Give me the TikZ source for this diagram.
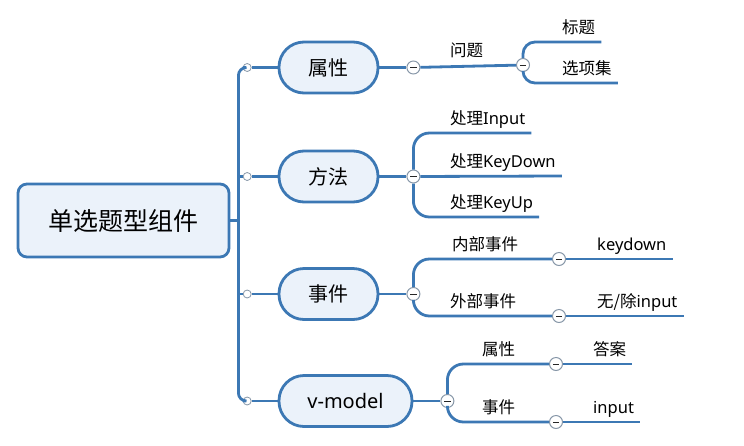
\documentclass[tikz,border=0pt]{standalone}
\usepackage{fontspec}
\newfontfamily\cjk{Noto Sans CJK SC}
\newfontfamily\latin{Noto Sans}
\usepackage{tikz}
\usetikzlibrary{positioning}
\definecolor{branchblue}{HTML}{3C78B4}
\definecolor{topicfill}{HTML}{EBF2FA}
\definecolor{knobgray}{HTML}{8797A8}
\tikzset{
  root/.style={draw=branchblue, line width=2.8pt, fill=topicfill, rounded corners=9pt,
    minimum width=211pt, minimum height=73pt, font=\cjk\fontsize{25}{30}\selectfont},
  topic/.style={draw=branchblue, line width=2.8pt, fill=topicfill, rounded corners=25pt,
    minimum width=99pt, minimum height=51pt, font=\cjk\fontsize{20}{24}\selectfont},
  leaf/.style={anchor=south west, inner xsep=6pt, inner ysep=5pt, text height=12pt,
    text depth=3pt, font=\cjk\fontsize{16.5}{19}\selectfont},
  link/.style={draw=branchblue, line width=2.8pt},
  fork/.style={rounded corners=16pt},
  knob/.style={circle, draw=knobgray, fill=white, line width=0.8pt, minimum size=8pt,
    inner sep=0pt},
  fold/.style={circle, draw=knobgray, fill=white, line width=1pt, minimum size=13pt,
    inner sep=0pt,
    path picture={\draw[black!85, line width=0.9pt]
      ([xshift=-3.2pt]path picture bounding box.center) --
      ([xshift=3.2pt]path picture bounding box.center);}},
}

\begin{document}
\begin{tikzpicture}[x=1pt, y=-1pt]

  \useasboundingbox (0,0) rectangle (744,445);

  % Define nodes
  \node[root] (root) at (123.5,220.5) {单选题型组件};
  \coordinate (trunk) at ([xshift=8pt]root.east);

  \node[topic] (attr) at (328.5,67.5) {属性};
  \node[topic] (method) at (328.5,176.5) {方法};
  \node[topic] (event) at (328.5,294) {事件};
  \node[topic, minimum width=133pt] (vmodel) at (345.5,401) {\latin v-model};

  \node[knob, left=26pt of attr] (k_attr) {};
  \node[knob, left=26pt of method] (k_method) {};
  \node[knob, left=26pt of event] (k_event) {};
  \node[knob, left=26pt of vmodel] (k_vmodel) {};

  \node[fold, right=27pt of attr] (f_attr) {};
  \node[fold, right=27pt of method] (f_method) {};
  \node[fold, right=27pt of event] (f_event) {};
  \node[fold, right=27pt of vmodel] (f_vmodel) {};

  \node[fold] (f_question) at (523,65) {};
  \node[fold] (f_inner) at (559,259) {};
  \node[fold] (f_outer) at (559,316) {};
  \node[fold] (f_vattr) at (556,364) {};
  \node[fold] (f_vevent) at (556,422) {};

  \node[leaf] (question) at (444,65) {问题};
  \node[leaf] (title) at (556,42) {标题};
  \node[leaf] (options) at (556,83) {选项集};

  \node[leaf] (h_input) at (444,133) {处理{\latin Input}};
  \node[leaf] (h_keydown) at (444,176) {处理{\latin KeyDown}};
  \node[leaf] (h_keyup) at (444,217) {处理{\latin KeyUp}};

  \node[leaf] (inner) at (446,259) {内部事件};
  \node[leaf] (keydown) at (591,259) {\latin keydown};
  \node[leaf] (outer) at (444,316) {外部事件};
  \node[leaf] (noinput) at (591,316) {无/除{\latin input}};

  \node[leaf] (v_attr) at (476,364) {属性};
  \node[leaf] (answer) at (587,364) {答案};
  \node[leaf] (v_event) at (476,422) {事件};
  \node[leaf] (v_input) at (587,422) {\latin input};

  % Connect nodes
  \draw[link] (root) -- (trunk);
  \draw[link, rounded corners=8pt] (k_attr) -| (trunk) |- (k_vmodel);
  \draw[link] (trunk |- k_method) -- (k_method);
  \draw[link] (trunk |- k_event) -- (k_event);

  \draw[link] (k_attr) -- (attr);
  \draw[link] (k_method) -- (method);
  \draw[link] (k_event) -- (event);
  \draw[link] (k_vmodel) -- (vmodel);

  \draw[link] (attr) -- (f_attr);
  \draw[link] (method) -- (f_method);
  \draw[link] (event) -- (f_event);
  \draw[link] (vmodel) -- (f_vmodel);

  \draw[link] (f_attr) -- (f_question);
  \draw[link, rounded corners=12pt] (f_question) |- (title.south east);
  \draw[link, rounded corners=12pt] (f_question) |- (options.south east);

  \draw[link, fork] (f_method) |- (h_input.south east);
  \draw[link] (f_method) -- (h_keydown.south east);
  \draw[link, fork] (f_method) |- (h_keyup.south east);

  \draw[link, fork] (f_event) |- (f_inner);
  \draw[link, fork] (f_event) |- (f_outer);
  \draw[link] (f_inner) -- (keydown.south east);
  \draw[link] (f_outer) -- (noinput.south east);

  \draw[link, fork] (f_vmodel) |- (f_vattr);
  \draw[link, fork] (f_vmodel) |- (f_vevent);
  \draw[link] (f_vattr) -- (answer.south east);
  \draw[link] (f_vevent) -- (v_input.south east);

\end{tikzpicture}
\end{document}
